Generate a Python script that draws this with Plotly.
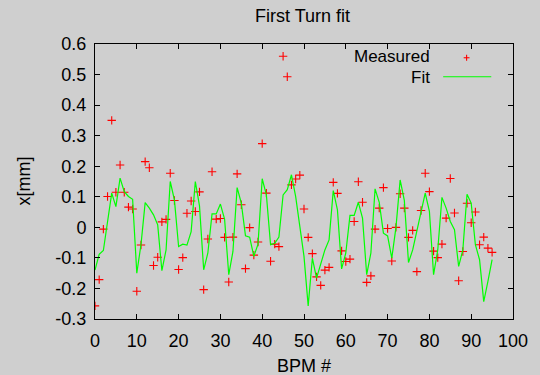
import plotly.graph_objects as go

# ---- data ----
bpm = list(range(96))
measured = [-0.257, -0.171, -0.006, 0.101, 0.350, 0.115, 0.204, 0.115, 0.066, 0.060,
            -0.209, -0.058, 0.215, 0.195, -0.125, -0.098, 0.018, 0.026, 0.177, 0.088,
            -0.138, -0.099, 0.046, 0.086, 0.052, 0.116, -0.204, -0.038, 0.182, 0.027,
            0.029, -0.033, -0.179, -0.032, 0.175, 0.074, -0.135, -0.001, -0.091, -0.048,
            0.274, 0.112, -0.111, -0.055, -0.063, 0.560, 0.493, 0.139, 0.158, 0.171,
            0.060, -0.033, -0.086, -0.162, -0.190, -0.140, -0.131, 0.147, 0.111, -0.077,
            -0.112, -0.104, 0.019, 0.149, 0.082, -0.180, -0.159, -0.006, 0.063, 0.130,
            -0.004, -0.110, 0.000, 0.110, 0.063, -0.033, -0.010, -0.145, 0.055, 0.177,
            0.117, -0.078, -0.099, -0.055, 0.030, 0.160, 0.047, -0.175, -0.079, 0.079,
            0.015, 0.050, -0.057, -0.032, -0.068, -0.082]
fit = [-0.140, -0.088, -0.076, 0.020, 0.112, 0.068, 0.161, 0.117, 0.101, 0.092,
       -0.150, -0.057, 0.081, 0.063, 0.041, 0.008, -0.142, -0.074, 0.150, 0.090,
       -0.063, -0.055, -0.058, -0.014, 0.150, 0.070, -0.139, -0.084, 0.044, 0.044,
       0.076, 0.027, -0.155, -0.079, 0.130, 0.079, -0.028, -0.032, -0.095, -0.055,
       0.159, 0.106, -0.057, -0.052, -0.032, 0.106, 0.123, 0.172, 0.101, 0.003,
       -0.095, -0.257, -0.101, -0.166, -0.117, -0.074, -0.041, 0.120, 0.057, -0.136,
       -0.084, 0.039, 0.039, 0.082, 0.030, -0.155, -0.084, 0.126, 0.082, -0.019,
       -0.028, -0.101, 0.000, 0.155, 0.088, -0.115, -0.074, -0.008, 0.052, 0.112,
       0.052, -0.155, -0.074, 0.098, 0.063, 0.019, -0.008, -0.128, -0.074, 0.108,
       0.079, -0.057, -0.106, -0.243, -0.177, -0.106]

x_ticks = [0, 10, 20, 30, 40, 50, 60, 70, 80, 90, 100]
y_ticks = [-0.3, -0.2, -0.1, 0, 0.1, 0.2, 0.3, 0.4, 0.5, 0.6]
y_tick_labels = ["-0.3", "-0.2", "-0.1", "0", "0.1", "0.2", "0.3", "0.4", "0.5", "0.6"]

BG = "#cfcfcf"
FONT = "Liberation Sans, Arial, sans-serif"
FS = 18
LFS = 17

fig = go.Figure()
fig.add_trace(go.Scatter(x=bpm, y=measured, mode="markers", name="Measured",
                         marker=dict(symbol="cross-thin", size=6, color="red",
                                     line=dict(color="red", width=1.1)),
                         showlegend=False))
fig.add_trace(go.Scatter(x=bpm, y=fit, mode="lines", name="Fit",
                         line=dict(color="#00ff00", width=1.2),
                         showlegend=False))

axis_common = dict(showline=True, linecolor="black", linewidth=1, mirror="ticks",
                   ticks="inside", ticklen=5, tickcolor="black", tickwidth=1,
                   showgrid=False, zeroline=False,
                   tickfont=dict(family=FONT, size=FS, color="black"))

fig.update_xaxes(range=[0, 100], tickvals=x_ticks, ticklabelstandoff=5, **axis_common)
fig.update_yaxes(range=[-0.3, 0.6], tickvals=y_ticks, ticktext=y_tick_labels,
                 ticklabelstandoff=4, **axis_common)

annots = [
    dict(text="First Turn fit", x=0.497, y=1.102, xref="paper", yref="paper",
         showarrow=False, xanchor="center", yanchor="middle",
         font=dict(family=FONT, size=FS, color="black")),
    dict(text="BPM #", x=0.5, y=-0.172, xref="paper", yref="paper",
         showarrow=False, xanchor="center", yanchor="middle",
         font=dict(family=FONT, size=FS, color="black")),
    dict(text="x[mm]", x=-0.172, y=0.5, xref="paper", yref="paper", textangle=-90,
         showarrow=False, xanchor="center", yanchor="middle",
         font=dict(family=FONT, size=FS, color="black")),
    dict(text="Measured", x=0.807, y=0.953, xref="paper", yref="paper",
         showarrow=False, xanchor="right", yanchor="middle",
         font=dict(family=FONT, size=LFS, color="black")),
    dict(text="Fit", x=0.807, y=0.879, xref="paper", yref="paper",
         showarrow=False, xanchor="right", yanchor="middle",
         font=dict(family=FONT, size=LFS, color="black")),
]
shapes = [
    dict(type="line", xref="paper", yref="paper", x0=0.833, x1=0.948, y0=0.881, y1=0.881,
         line=dict(color="#00ff00", width=1.2)),
    dict(type="line", xref="paper", yref="paper", x0=0.882, x1=0.896, y0=0.950, y1=0.950,
         line=dict(color="red", width=1.1)),
    dict(type="line", xref="paper", yref="paper", x0=0.889, x1=0.889, y0=0.939, y1=0.961,
         line=dict(color="red", width=1.1)),
]

fig.update_layout(width=540, height=375,
                  margin=dict(l=95, r=20, t=44, b=56, pad=0),
                  paper_bgcolor=BG, plot_bgcolor=BG,
                  annotations=annots, shapes=shapes,
                  font=dict(family=FONT, size=FS, color="black"),
                  showlegend=False)

fig.write_html("out.html")
